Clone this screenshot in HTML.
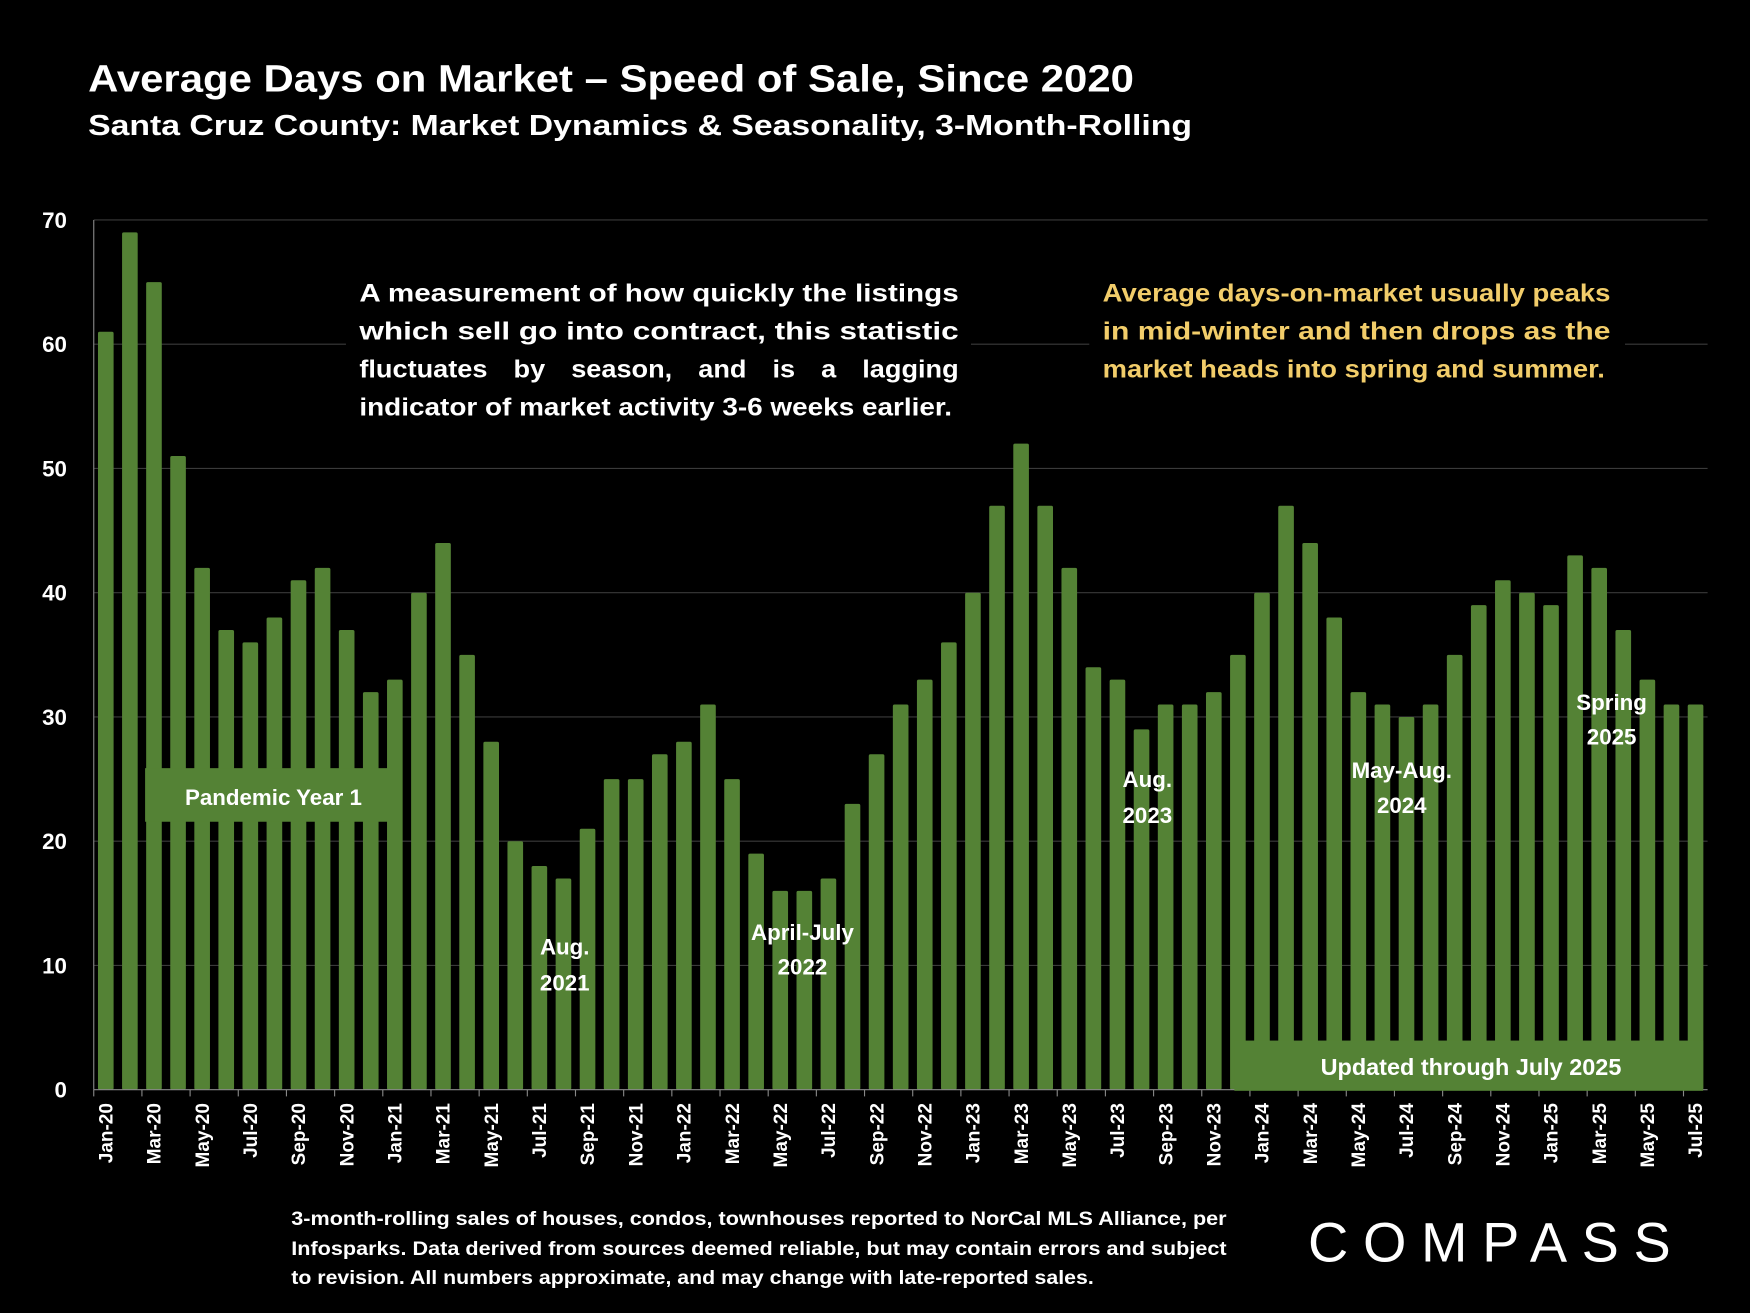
<!DOCTYPE html>
<html><head><meta charset="utf-8"><style>
html,body{margin:0;padding:0;background:#000;}
svg{display:block;}
text{font-family:"Liberation Sans",sans-serif;font-weight:bold;}
</style></head><body>
<svg id="chart" width="1750" height="1313" viewBox="0 0 1568 1176" preserveAspectRatio="none" xmlns="http://www.w3.org/2000/svg">
<rect width="1568" height="1176" fill="#000"/>
<text x="79" y="82" fill="#fff" font-size="34" textLength="937" lengthAdjust="spacingAndGlyphs">Average Days on Market – Speed of Sale, Since 2020</text>
<text x="79" y="121" fill="#fff" font-size="26" textLength="989" lengthAdjust="spacingAndGlyphs">Santa Cruz County: Market Dynamics &amp; Seasonality, 3-Month-Rolling</text>
<g id="grid"></g>
<g id="bars"></g>
<g id="xaxis"></g>
<g id="yaxis"></g>
<rect x="310" y="245" width="560" height="135" fill="#000"/>
<g fill="#fff" font-size="22">
<text x="322" y="270" textLength="537" lengthAdjust="spacingAndGlyphs">A measurement of how quickly the listings</text>
<text x="322" y="304" textLength="537" lengthAdjust="spacingAndGlyphs">which sell go into contract, this statistic</text>
<text x="322" y="338" word-spacing="15" textLength="537" lengthAdjust="spacingAndGlyphs">fluctuates by season, and is a lagging</text>
<text x="322" y="372" textLength="531" lengthAdjust="spacingAndGlyphs">indicator of market activity 3-6 weeks earlier.</text>
</g>
<rect x="976" y="245" width="480" height="100" fill="#000"/>
<g fill="#f2cd6a" font-size="22">
<text x="988" y="270" textLength="455" lengthAdjust="spacingAndGlyphs">Average days-on-market usually peaks</text>
<text x="988" y="304" textLength="455" lengthAdjust="spacingAndGlyphs">in mid-winter and then drops as the</text>
<text x="988" y="338" textLength="450" lengthAdjust="spacingAndGlyphs">market heads into spring and summer.</text>
</g>
<rect x="130" y="688" width="222" height="48" fill="#548235"/>
<text x="245" y="721" fill="#fff" font-size="20" text-anchor="middle">Pandemic Year 1</text>
<rect x="1106" y="932" width="420" height="45" fill="#548235"/>
<text x="1318" y="963" fill="#fff" font-size="21" text-anchor="middle">Updated through July 2025</text>
<g fill="#fff" font-size="20" text-anchor="middle">
<text x="506" y="855">Aug.</text><text x="506" y="887">2021</text>
<text x="719" y="842">April-July</text><text x="719" y="873">2022</text>
<text x="1028" y="705">Aug.</text><text x="1028" y="737">2023</text>
<text x="1256" y="697">May-Aug.</text><text x="1256" y="728">2024</text>
<text x="1444" y="636">Spring</text><text x="1444" y="667">2025</text>
</g>
<g fill="#fff" font-size="17">
<text x="261" y="1097" textLength="838" lengthAdjust="spacingAndGlyphs">3-month-rolling sales of houses, condos, townhouses reported to NorCal MLS Alliance, per</text>
<text x="261" y="1124" textLength="838" lengthAdjust="spacingAndGlyphs">Infosparks. Data derived from sources deemed reliable, but may contain errors and subject</text>
<text x="261" y="1150" textLength="719" lengthAdjust="spacingAndGlyphs">to revision. All numbers approximate, and may change with late-reported sales.</text>
</g>
<text x="1172" y="1130" fill="#fff" font-size="50" style="font-weight:normal" letter-spacing="7" textLength="332">COMPASS</text>
<script>
const categories=[];
const months=['Jan','Feb','Mar','Apr','May','Jun','Jul','Aug','Sep','Oct','Nov','Dec'];
for(let y=20;y<=25;y++)for(let m=0;m<12;m++){if(y===25&&m>6)break;categories.push(months[m]+'-'+y);}
const values=[61,69,65,51,42,37,36,38,41,42,37,32,
33,40,44,35,28,20,18,17,21,25,25,27,
28,31,25,19,16,16,17,23,27,31,33,36,
40,47,52,47,42,34,33,29,31,31,32,35,
40,47,44,38,32,31,30,31,35,39,41,40,
39,43,42,37,33,31,31];
const yTicks=[0,10,20,30,40,50,60,70];
const NS='http://www.w3.org/2000/svg';
const x0=84,x1=1530,y0=976,yTop=197,yMax=70;
const step=(x1-x0)/categories.length;
const yS=v=>y0-(v/yMax)*(y0-yTop);
const xC=i=>x0+step*(i+0.5);
function mk(tag,attrs,parent){const e=document.createElementNS(NS,tag);for(const k in attrs)e.setAttribute(k,attrs[k]);parent.appendChild(e);return e;}
const grid=document.getElementById('grid'),bars=document.getElementById('bars'),xa=document.getElementById('xaxis'),ya=document.getElementById('yaxis');
yTicks.forEach(t=>{
  if(t>0){const l=mk('line',{x1:x0,x2:x1,y1:yS(t),y2:yS(t),stroke:'#3a3a3a','stroke-width':1},grid);
  
  }
  const tx=mk('text',{x:60,y:yS(t)+7,fill:'#fff','font-size':20,'text-anchor':'end'},ya);
  tx.textContent=t;
  
  
});
values.forEach((v,i)=>{
  const w=14;
  const r=mk('rect',{x:xC(i)-w/2,y:yS(v),width:w,height:y0-yS(v),fill:'#548235',rx:1.5},bars);
  
  
});
const ax=mk('line',{x1:x0,x2:x1,y1:y0,y2:y0,stroke:'#888','stroke-width':1},xa);


mk('line',{x1:x0,x2:x0,y1:yTop,y2:y0,stroke:'#888','stroke-width':1},ya);
categories.forEach((c,i)=>{
  if(i%2===0){
    mk('line',{x1:x0+step*i,x2:x0+step*i,y1:y0,y2:y0+6,stroke:'#888'},xa);
    const t=mk('text',{x:0,y:0,fill:'#fff','font-size':17,'text-anchor':'end',transform:'translate('+(xC(i)+6)+','+(y0+12)+') rotate(-90)'},xa);
    t.textContent=c;
    
    
  }
});
</script>
</svg>
</body></html>
